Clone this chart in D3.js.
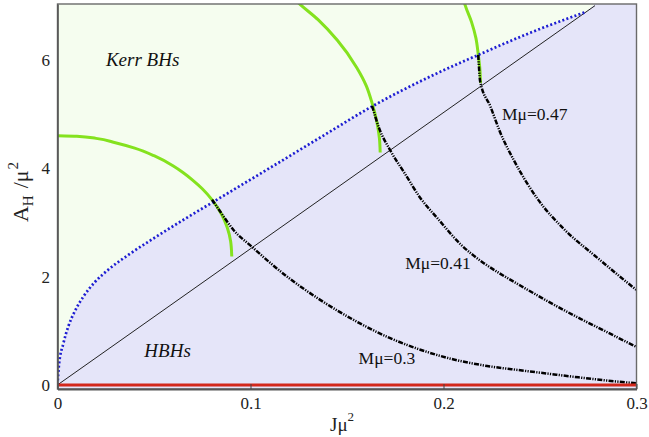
<html>
  <head>
    <title>HBH domain</title>
    <script type="text/javascript" src="https://cdn.jsdelivr.net/npm/d3@7"></script>
    <style>
      body { margin: 0; background: #fff; }
      text { font-family: "Liberation Serif", "Times New Roman", serif; }
    </style>
  </head>
  <body>
    <script type="text/javascript">
// tick values
const xTicks = [0, 0.1, 0.2, 0.3];
const yTicks = [0, 2, 4, 6];

// existence line (blue dotted)
const existJ = [0, 0.0008, 0.003, 0.0056, 0.0091, 0.0134, 0.0194, 0.0264, 0.0367, 0.05, 0.0635, 0.0808, 0.1, 0.1154, 0.14, 0.163, 0.193, 0.218, 0.245, 0.2735];
const existA = [0, 0.38, 0.76, 1.08, 1.37, 1.63, 1.9, 2.13, 2.4, 2.71, 3.01, 3.38, 3.79, 4.12, 4.65, 5.14, 5.69, 6.09, 6.5, 6.88];

// extremal Kerr line
const extremalJ = [0, 0.2785];
const extremalA = [0, 7.0];

// A = 0 line (red)
const groundJ = [0, 0.3];
const groundA = [0, 0];

// Kerr lines at fixed M (green)
const kerr030J = [0, 0.01, 0.02, 0.03, 0.04, 0.05, 0.06, 0.065, 0.07, 0.075, 0.08, 0.085, 0.088, 0.0897, 0.0903];
const kerr030A = [4.6, 4.59, 4.55, 4.47, 4.37, 4.23, 4.04, 3.92, 3.78, 3.62, 3.42, 3.15, 2.9, 2.65, 2.37];
const kerr041J = [0.1235, 0.1249, 0.135, 0.145, 0.155, 0.16, 0.163, 0.1655, 0.1668, 0.1672];
const kerr041A = [7.1, 7.05, 6.74, 6.36, 5.86, 5.52, 5.2, 4.85, 4.55, 4.29];
const kerr047J = [0.2105, 0.2113, 0.2145, 0.2168, 0.218, 0.2188, 0.2192];
const kerr047A = [7.1, 7.0, 6.7, 6.4, 6.1, 5.85, 5.57];

// hairy BHs at fixed M (black dash-dot)
const hbh030J = [0.0801, 0.0843, 0.0912, 0.1007, 0.1189, 0.1361, 0.1534, 0.1707, 0.188, 0.2053, 0.2226, 0.2399, 0.2537, 0.27, 0.285, 0.3];
const hbh030A = [3.42, 3.2, 2.86, 2.55, 2.0, 1.57, 1.2, 0.89, 0.65, 0.47, 0.35, 0.27, 0.21, 0.14, 0.08, 0.03];
const hbh041J = [0.163, 0.1665, 0.1724, 0.18, 0.188, 0.1975, 0.2087, 0.22, 0.2295, 0.24, 0.2537, 0.271, 0.285, 0.3];
const hbh041A = [5.15, 4.75, 4.33, 3.9, 3.45, 3.05, 2.6, 2.27, 2.05, 1.83, 1.55, 1.22, 0.97, 0.7];
const hbh047J = [0.218, 0.2185, 0.219, 0.2243, 0.2295, 0.2364, 0.249, 0.2623, 0.2796, 0.3];
const hbh047A = [6.09, 5.8, 5.6, 5.14, 4.65, 4.15, 3.42, 2.88, 2.35, 1.75];

const massLabels = ["Mμ=0.3", "Mμ=0.41", "Mμ=0.47"];

const w = 649;
const h = 437;

const x = d3.scaleLinear().domain([0, 0.3]).range([57.5, 636.5]);
const y = d3.scaleLinear().domain([-0.075, 7.03]).range([389, 4]);

const svg = d3.select("body")
  .append("svg")
  .attr("width", w)
  .attr("height", h);

svg.append("clipPath").attr("id", "plot")
  .append("rect")
  .attr("x", x(0)).attr("y", y(7.03))
  .attr("width", x(0.3) - x(0)).attr("height", y(-0.075) - y(7.03));

const pts = (js, as) => js.map((j, i) => [j, as[i]]);
const line = d3.line().x(d => x(d[0])).y(d => y(d[1]));
const smoothX = d3.line().curve(d3.curveMonotoneX).x(d => x(d[0])).y(d => y(d[1]));
const smoothY = d3.line().curve(d3.curveMonotoneY).x(d => x(d[0])).y(d => y(d[1]));

// backgrounds
svg.append("rect")
  .attr("x", x(0)).attr("y", y(7.03))
  .attr("width", x(0.3) - x(0)).attr("height", y(-0.075) - y(7.03))
  .attr("fill", "#f5fdef");

// hairy BH region: under the existence line, right of the extremal line
let corners = [[extremalJ[1], 7.03], [0.3, 7.03], [0.3, -0.075], [0, -0.075]];
svg.append("path")
  .attr("d", smoothX(pts(existJ, existA))
    + "L" + corners.map(d => x(d[0]) + "," + y(d[1])).join("L") + "Z")
  .attr("fill", "#e5e5f9")
  .attr("clip-path", "url(#plot)");

const g = svg.append("g").attr("clip-path", "url(#plot)");

// extremal line
g.append("path")
  .attr("d", line(pts(extremalJ, extremalA)))
  .attr("fill", "none").attr("stroke", "#222").attr("stroke-width", 1);

// Kerr curves
for (let [js, as] of [[kerr030J, kerr030A], [kerr041J, kerr041A], [kerr047J, kerr047A]]) {
  g.append("path")
    .attr("d", smoothY(pts(js, as).slice().reverse()))
    .attr("fill", "none").attr("stroke", "#84e21e").attr("stroke-width", 3);
}

// existence line
g.append("path")
  .attr("d", smoothX(pts(existJ, existA)))
  .attr("fill", "none").attr("stroke", "#1e1ed2").attr("stroke-width", 2.7)
  .attr("stroke-dasharray", "2,2.3");

// hairy BH curves
for (let [js, as] of [[hbh030J, hbh030A], [hbh041J, hbh041A], [hbh047J, hbh047A]]) {
  g.append("path")
    .attr("d", smoothX(pts(js, as)))
    .attr("fill", "none").attr("stroke", "#000").attr("stroke-width", 2.5)
    .attr("stroke-dasharray", "5,1.3,1.2,1.3,1.2,1.3");
}

// red A=0 line
g.append("path")
  .attr("d", line(pts(groundJ, groundA)))
  .attr("fill", "none").attr("stroke", "#d3281c").attr("stroke-width", 3);

// frame
svg.append("rect")
  .attr("x", x(0)).attr("y", y(7.03))
  .attr("width", x(0.3) - x(0)).attr("height", y(-0.075) - y(7.03))
  .attr("fill", "none").attr("stroke", "#6a6a6a").attr("stroke-width", 1.4);

// axes
const xAxis = d3.axisBottom(x)
  .tickValues(xTicks)
  .tickFormat(d => d === 0 ? "0" : d3.format(".1f")(d))
  .tickSizeInner(-5).tickSizeOuter(0).tickPadding(8);
const gx = svg.append("g")
  .attr("font-family", "Liberation Serif")
  .attr("transform", "translate(0," + y(-0.075) + ")")
  .call(xAxis);
gx.select(".domain").attr("stroke", "#555").attr("stroke-width", 2.2);
gx.selectAll(".tick line").attr("stroke", "#444").attr("stroke-width", 1);
gx.selectAll("text").attr("font-size", "17px").attr("fill", "#222");

const yAxis = d3.axisLeft(y)
  .tickValues(yTicks)
  .tickSizeInner(0).tickSizeOuter(0).tickPadding(7.5);
const gy = svg.append("g")
  .attr("font-family", "Liberation Serif")
  .attr("transform", "translate(" + x(0) + ",0)")
  .call(yAxis);
gy.select(".domain").attr("stroke", "#555").attr("stroke-width", 1.6);
gy.selectAll("text").attr("font-size", "17px").attr("fill", "#222");

// axis titles
const xt = svg.append("text")
  .attr("x", 330).attr("y", 431)
  .attr("font-size", "19px").attr("fill", "#222");
xt.append("tspan").text("Jμ");
xt.append("tspan").attr("dy", -10).attr("font-size", "13px").text("2");

const yt = svg.append("text")
  .attr("transform", "translate(28,192) rotate(-90)")
  .attr("text-anchor", "middle")
  .attr("font-size", "22px").attr("fill", "#222");
yt.append("tspan").text("A");
yt.append("tspan").attr("dy", 5).attr("font-size", "15px").text("H");
yt.append("tspan").attr("dy", -5).attr("dx", 7).text("/μ");
yt.append("tspan").attr("dy", -10).attr("dx", 1).attr("font-size", "15px").text("2");

// region labels
svg.append("text")
  .attr("x", x(0.0251)).attr("y", y(5.89))
  .attr("font-size", "19px").attr("font-style", "italic").attr("fill", "#111")
  .text("Kerr BHs");
svg.append("text")
  .attr("x", x(0.045)).attr("y", y(0.52))
  .attr("font-size", "19px").attr("font-style", "italic").attr("fill", "#111")
  .text("HBHs");

// mass labels
const labelJ = [0.156, 0.1802, 0.2303];
const labelA = [0.38, 2.14, 4.89];
massLabels.forEach((t, i) => {
  svg.append("text")
    .attr("x", x(labelJ[i])).attr("y", y(labelA[i]))
    .attr("font-size", "17.5px").attr("fill", "#111")
    .text(t);
});
    </script>
  </body>
</html>
